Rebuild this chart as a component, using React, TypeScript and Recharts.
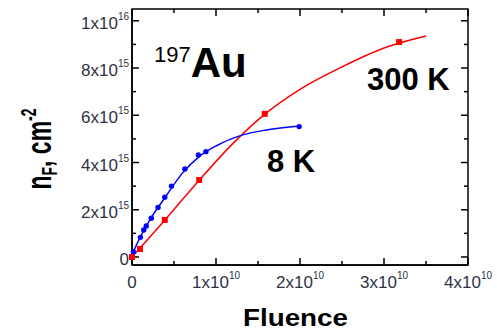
import React from "react";
import * as R from "recharts";
import {
  ComposedChart,
  Line,
  Scatter,
  XAxis,
  YAxis,
  Customized,
} from "recharts";

// x in units of 1e10, y in units of 1e15
const xDomain = [0, 4];
const yDomain = [-0.34, 10.5];
const xTicks = [0, 0.5, 1, 1.5, 2, 2.5, 3, 3.5, 4];
const xMajor = [0, 1, 2, 3, 4];
const xTickMant = ["0", "1x10", "2x10", "3x10", "4x10"];
const xTickExp = ["", "10", "10", "10", "10"];

const yTicks = [0, 1, 2, 3, 4, 5, 6, 7, 8, 9, 10];
const yMajor = [0, 2, 4, 6, 8, 10];
const yTickMant = ["0", "2x10", "4x10", "6x10", "8x10", "1x10"];
const yTickExp = ["", "15", "15", "15", "15", "16"];

const red300Points = [
  { x: 0, y: 0 },
  { x: 0.095, y: 0.34 },
  { x: 0.39, y: 1.57 },
  { x: 0.8, y: 3.26 },
  { x: 1.58, y: 6.06 },
  { x: 3.18, y: 9.1 },
];
const red300Curve = [
  { x: 0, y: 0 },
  { x: 0.4, y: 1.6 },
  { x: 0.8, y: 3.25 },
  { x: 1.2, y: 4.8 },
  { x: 1.6, y: 6.1 },
  { x: 2.0, y: 7.1 },
  { x: 2.5, y: 8.05 },
  { x: 3.0, y: 8.85 },
  { x: 3.5, y: 9.36 },
];
const blue8Points = [
  { x: 0.016, y: 0.22 },
  { x: 0.1, y: 0.83 },
  { x: 0.14, y: 1.14 },
  { x: 0.17, y: 1.31 },
  { x: 0.23, y: 1.64 },
  { x: 0.31, y: 2.1 },
  { x: 0.39, y: 2.53 },
  { x: 0.47, y: 3.0 },
  { x: 0.63, y: 3.73 },
  { x: 0.79, y: 4.32 },
  { x: 0.88, y: 4.46 },
  { x: 1.99, y: 5.52 },
];
const blue8Curve = [
  { x: 0, y: 0.1 },
  { x: 0.1, y: 0.85 },
  { x: 0.2, y: 1.5 },
  { x: 0.4, y: 2.55 },
  { x: 0.6, y: 3.55 },
  { x: 0.8, y: 4.25 },
  { x: 1.0, y: 4.7 },
  { x: 1.32, y: 5.17 },
  { x: 1.6, y: 5.38 },
  { x: 2.0, y: 5.55 },
];

const CHART_W = 497;
const CHART_H = 331;
const MARGIN = { top: 9, right: 29, bottom: 0, left: 0 };
const X_AXIS_H = 66;
const Y_AXIS_W = 132;

const LABEL = "#2e3346";
const FONT = "'Liberation Sans', Arial, sans-serif";

const BottomTick = (props: any) => {
  const { x, y, payload } = props;
  const i = xMajor.indexOf(payload.value);
  if (i < 0) return <g />;
  return (
    <text x={x} y={y + 23} textAnchor="middle" fontFamily={FONT} fontSize={17} fill={LABEL}>
      {xTickMant[i]}
      {xTickExp[i] && (
        <tspan fontSize={10} dy={-9}>
          {xTickExp[i]}
        </tspan>
      )}
    </text>
  );
};

const LeftTick = (props: any) => {
  const { x, y, payload } = props;
  const i = yMajor.indexOf(payload.value);
  if (i < 0) return <g />;
  return (
    <text x={x - 3} y={y + 8} textAnchor="end" fontFamily={FONT} fontSize={17} fill={LABEL}>
      {yTickMant[i]}
      {yTickExp[i] && (
        <tspan fontSize={10} dy={-9}>
          {yTickExp[i]}
        </tspan>
      )}
    </text>
  );
};

const Square = (props: any) => {
  const { cx, cy } = props;
  return <rect x={cx - 3} y={cy - 3} width={6} height={6} fill="#ff0000" />;
};
const Dot = (props: any) => {
  const { cx, cy } = props;
  return <circle cx={cx} cy={cy} r={2.7} fill="#0000ff" />;
};

// Plot frame with inward ticks, positioned from the chart's plot area and axis domains
const usePlotAreaSafe: any = (R as any).usePlotArea || (() => null);
const Frame = () => {
  const pa = usePlotAreaSafe();
  const left = pa && isFinite(pa.x) ? pa.x : MARGIN.left + Y_AXIS_W;
  const top = pa && isFinite(pa.y) ? pa.y : MARGIN.top;
  const width = pa && isFinite(pa.width) ? pa.width : CHART_W - MARGIN.left - MARGIN.right - Y_AXIS_W;
  const height = pa && isFinite(pa.height) ? pa.height : CHART_H - MARGIN.top - MARGIN.bottom - X_AXIS_H;
  const right = left + width;
  const bottom = top + height;
  const sx = (v: number) => left + ((v - xDomain[0]) / (xDomain[1] - xDomain[0])) * width;
  const sy = (v: number) => top + ((yDomain[1] - v) / (yDomain[1] - yDomain[0])) * height;
  const segs: React.ReactNode[] = [];
  xTicks.forEach((v) => {
    const len = xMajor.includes(v) ? 7 : 4;
    const px = sx(v);
    segs.push(<line key={`xb${v}`} x1={px} y1={bottom} x2={px} y2={bottom - len} />);
    segs.push(<line key={`xt${v}`} x1={px} y1={top} x2={px} y2={top + len} />);
  });
  yTicks.forEach((v) => {
    const len = yMajor.includes(v) ? 7 : 4;
    const py = sy(v);
    segs.push(<line key={`yl${v}`} x1={left} y1={py} x2={left + len} y2={py} />);
    segs.push(<line key={`yr${v}`} x1={right} y1={py} x2={right - len} y2={py} />);
  });
  return (
    <g stroke="#000000" strokeWidth={1.5} fill="none">
      <rect x={left} y={top} width={width} height={height} />
      {segs}
    </g>
  );
};

const Annotations = () => (
  <g fontFamily={FONT} fill="black">
    <text x={154} y={77}>
      <tspan fontSize={22} dy={-15}>197</tspan>
      <tspan fontSize={42} fontWeight="bold" dy={15}>Au</tspan>
    </text>
    <text x={367} y={90} fontSize={31} fontWeight="bold">300 K</text>
    <text x={267} y={172} fontSize={31} fontWeight="bold">8 K</text>
    <text x={243} y={326} fontSize={23} fontWeight="bold" textLength={105} lengthAdjust="spacingAndGlyphs">
      Fluence
    </text>
    <text transform="translate(51,149) scale(1.55,1) rotate(-90)" textAnchor="middle" fontSize={23} fontWeight="bold">
      n
      <tspan fontSize={14} dy={4}>F</tspan>
      <tspan dy={-4}>, cm</tspan>
      <tspan fontSize={14} dy={-10}>-2</tspan>
    </text>
  </g>
);

export default function App() {
  return (
    <div style={{ position: "absolute", left: 0, top: 0, width: CHART_W, height: CHART_H, background: "#fff" }}>
      <ComposedChart width={CHART_W} height={CHART_H} margin={MARGIN}>
        <XAxis
          xAxisId="b"
          type="number"
          dataKey="x"
          domain={xDomain}
          ticks={xTicks}
          interval={0}
          height={X_AXIS_H}
          tickSize={0}
          tickMargin={0}
          tickLine={false}
          axisLine={{ stroke: "black", strokeWidth: 1.5 }}
          tick={<BottomTick />}
        />
        <YAxis
          yAxisId="l"
          type="number"
          dataKey="y"
          domain={yDomain}
          ticks={yTicks}
          interval={0}
          width={Y_AXIS_W}
          tickSize={0}
          tickMargin={0}
          tickLine={false}
          axisLine={{ stroke: "black", strokeWidth: 1.5 }}
          tick={<LeftTick />}
        />
        <Line xAxisId="b" yAxisId="l" data={red300Curve} dataKey="y" type="monotone" stroke="#ff0000" strokeWidth={1.5} dot={false} isAnimationActive={false} />
        <Line xAxisId="b" yAxisId="l" data={blue8Curve} dataKey="y" type="monotone" stroke="#0000ff" strokeWidth={1.5} dot={false} isAnimationActive={false} />
        <Scatter xAxisId="b" yAxisId="l" data={red300Points} dataKey="y" shape={<Square />} isAnimationActive={false} />
        <Scatter xAxisId="b" yAxisId="l" data={blue8Points} dataKey="y" shape={<Dot />} isAnimationActive={false} />
        <Customized component={Annotations} />
        <Customized component={Frame} />
      </ComposedChart>
    </div>
  );
}
